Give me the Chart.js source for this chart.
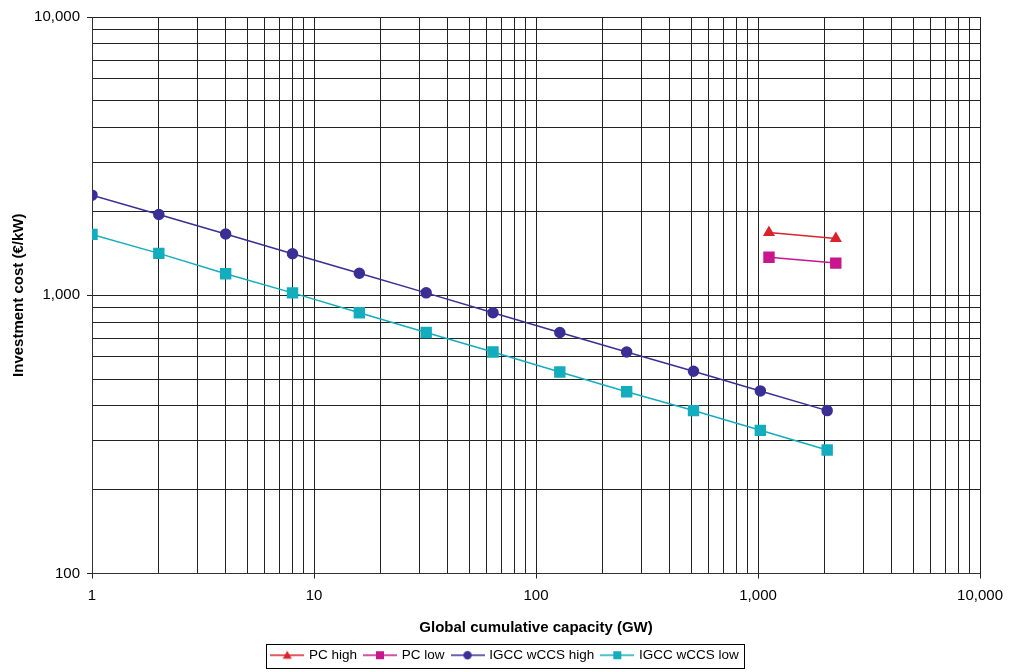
<!DOCTYPE html>
<html>
<head>
<meta charset="utf-8">
<script src="https://cdn.jsdelivr.net/npm/chart.js@4.4.1/dist/chart.umd.min.js"></script>
<style>
  html, body { margin: 0; padding: 0; background: #fff; }
</style>
</head>
<body>
<canvas id="cost" width="1011" height="672"></canvas>
<script>
// capacity doublings (GW) and investment cost (EUR/kW)
var capacity = [1, 2, 4, 8, 16, 32, 64, 128, 256, 512, 1024, 2048];
var igccHigh = [2290, 1950, 1660, 1410, 1200, 1020, 865, 735, 625, 533, 453, 385];
var igccLow  = [1655, 1414, 1195, 1020, 865, 735, 625, 530, 450, 385, 327, 278];
var pcCapacity = [1120, 2240];
var pcHigh = [1680, 1600];
var pcLow  = [1370, 1305];

var xLabels = [1, 10, 100, 1000, 10000];
var yLabels = [100, 1000, 10000];

var FONT = 'Liberation Sans, Arial, sans-serif';

function pts(xs, ys) {
  return xs.map(function(x, i) { return { x: x, y: ys[i] }; });
}

// every 1..9 step of each decade gets a grid line
function logTicks(min, max) {
  var out = [];
  for (var d = min; d < max; d *= 10) {
    for (var k = 1; k < 10; k++) out.push({ value: d * k, major: k === 1 });
  }
  out.push({ value: max, major: true });
  return out;
}

function fmt(v) {
  return v.toLocaleString('en-US');
}

// little line + marker pictures for the legend
function legendIcon(color, shape) {
  var c = document.createElement('canvas');
  c.width = 34; c.height = 12;
  var g = c.getContext('2d');
  g.strokeStyle = color;
  g.lineWidth = 1.5;
  g.beginPath(); g.moveTo(0, 6); g.lineTo(34, 6); g.stroke();
  g.fillStyle = color;
  g.beginPath();
  if (shape === 'triangle') {
    g.moveTo(17, 1.5); g.lineTo(21.5, 9.5); g.lineTo(12.5, 9.5); g.closePath();
  } else if (shape === 'rect') {
    g.rect(13, 2, 8, 8);
  } else {
    g.arc(17, 6, 4.2, 0, Math.PI * 2);
  }
  g.fill();
  return c;
}

var colors = ['#d9232d', '#c7168e', '#3a2f95', '#13adbd'];
var shapes = ['triangle', 'rect', 'circle', 'rect'];
var icons = colors.map(function(c, i) { return legendIcon(c, shapes[i]); });

var legendBorder = {
  id: 'legendBorder',
  afterDraw: function(chart) {
    var boxes = chart.legend.legendHitBoxes;
    if (!boxes || !boxes.length) return;
    var l = boxes[0].left, r = boxes[boxes.length - 1].left + boxes[boxes.length - 1].width;
    var t = boxes[0].top, h = boxes[0].height;
    var ctx = chart.ctx;
    ctx.save();
    ctx.strokeStyle = '#000';
    ctx.lineWidth = 1;
    ctx.strokeRect(Math.round(l - 6) + 0.5, Math.round(t - 5) + 0.5, Math.round(r - l + 11), Math.round(h + 10));
    ctx.restore();
  }
};

var ctx = document.getElementById('cost').getContext('2d');

var costChart = new Chart(ctx, {
  type: 'line',
  data: {
    datasets: [
      {
        label: 'PC high',
        data: pts(pcCapacity, pcHigh),
        borderColor: colors[0], backgroundColor: colors[0],
        borderWidth: 1.5, pointStyle: 'triangle', pointRadius: 5.5
      },
      {
        label: 'PC low',
        data: pts(pcCapacity, pcLow),
        borderColor: colors[1], backgroundColor: colors[1],
        borderWidth: 1.5, pointStyle: 'rect', pointRadius: 7
      },
      {
        label: 'IGCC wCCS high',
        data: pts(capacity, igccHigh),
        borderColor: colors[2], backgroundColor: colors[2],
        borderWidth: 1.5, pointStyle: 'circle', pointRadius: 5
      },
      {
        label: 'IGCC wCCS low',
        data: pts(capacity, igccLow),
        borderColor: colors[3], backgroundColor: colors[3],
        borderWidth: 1.5, pointStyle: 'rect', pointRadius: 7
      }
    ]
  },
  options: {
    responsive: false,
    animation: false,
    devicePixelRatio: 1,
    layout: { padding: { left: 0, right: 0, top: 17, bottom: 0 } },
    plugins: {
      tooltip: { enabled: false },
      legend: {
        position: 'bottom',
        labels: {
          font: { family: FONT, size: 13.5 },
          color: '#000',
          usePointStyle: true,
          pointStyleWidth: 30,
          padding: 8,
          generateLabels: function(chart) {
            var items = Chart.defaults.plugins.legend.labels.generateLabels(chart);
            items.forEach(function(it, i) { it.pointStyle = icons[i]; });
            return items;
          }
        }
      }
    },
    scales: {
      x: {
        type: 'logarithmic',
        min: 1, max: 10000,
        afterBuildTicks: function(s) { s.ticks = logTicks(1, 10000); },
        afterFit: function(s) { s.height = 67; },
        ticks: {
          autoSkip: false, maxRotation: 0, padding: 8,
          font: { family: FONT, size: 15 }, color: '#000',
          callback: function(v) { return xLabels.indexOf(v) >= 0 ? fmt(v) : ''; }
        },
        grid: {
          color: '#222', lineWidth: 1, tickLength: 5,
          tickColor: function(c) { return c.tick && xLabels.indexOf(c.tick.value) >= 0 ? '#222' : 'rgba(0,0,0,0)'; }
        },
        border: { color: '#333', width: 1 },
        title: {
          display: true, text: 'Global cumulative capacity (GW)',
          font: { family: FONT, size: 15, weight: 'bold' }, color: '#000', padding: { top: 4 }
        }
      },
      y: {
        type: 'logarithmic',
        min: 100, max: 10000,
        afterBuildTicks: function(s) { s.ticks = logTicks(100, 10000); },
        afterFit: function(s) { s.width = 92; },
        ticks: {
          autoSkip: false, padding: 7,
          font: { family: FONT, size: 15 }, color: '#000',
          callback: function(v) { return yLabels.indexOf(v) >= 0 ? fmt(v) : ''; }
        },
        grid: {
          color: '#222', lineWidth: 1, tickLength: 5,
          tickColor: function(c) { return c.tick && yLabels.indexOf(c.tick.value) >= 0 ? '#222' : 'rgba(0,0,0,0)'; }
        },
        border: { color: '#333', width: 1 },
        title: {
          display: true, text: 'Investment cost (\u20ac/kW)',
          font: { family: FONT, size: 15, weight: 'bold' }, color: '#000', padding: { top: 10, bottom: 0 }
        }
      },
      // empty strip on the right so the plot ends where the original does
      spacer: {
        type: 'linear',
        position: 'right',
        afterFit: function(s) { s.width = 30; },
        grid: { display: false, drawTicks: false },
        border: { display: false },
        ticks: { display: false }
      }
    }
  },
  plugins: [legendBorder]
});
</script>
</body>
</html>
